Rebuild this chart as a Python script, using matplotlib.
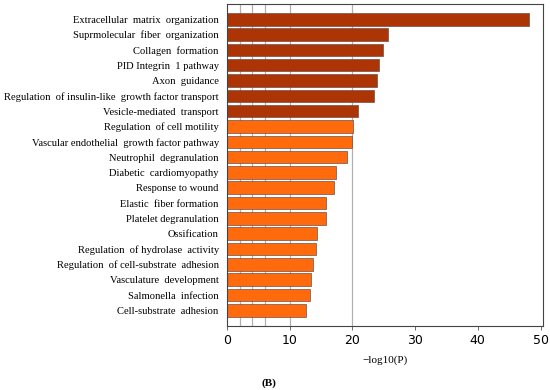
import matplotlib
matplotlib.use("Agg")
import matplotlib.pyplot as plt

# 項目名（上から順）
terms = [
    "Extracellular  matrix  organization",
    "Suprmolecular  fiber  organization",
    "Collagen  formation",
    "PID Integrin  1 pathway",
    "Axon  guidance",
    "Regulation  of insulin-like  growth factor transport",
    "Vesicle-mediated  transport",
    "Regulation  of cell motility",
    "Vascular endothelial  growth factor pathway",
    "Neutrophil  degranulation",
    "Diabetic  cardiomyopathy",
    "Response to wound",
    "Elastic  fiber formation",
    "Platelet degranulation",
    "Ossification",
    "Regulation  of hydrolase  activity",
    "Regulation  of cell-substrate  adhesion",
    "Vasculature  development",
    "Salmonella  infection",
    "Cell-substrate  adhesion",
]
# -log10(P)
neg_log_p = [48.1, 25.6, 24.9, 24.3, 24.0, 23.4, 20.9, 20.05, 19.95, 19.1,
             17.45, 17.0, 15.8, 15.8, 14.4, 14.15, 13.7, 13.45, 13.3, 12.55]
# 色の区分（0: 濃い, 1: 明るい）
shade = [0] * 7 + [1] * 13
grid_x = [2, 4, 6, 10, 20]
x_ticks = [0, 10, 20, 30, 40, 50]

color_list = ["#AD3404", "#FF6A0C"]

fig = plt.figure(figsize=(5.5, 3.9), dpi=100)
ax = fig.add_subplot(1, 1, 1)
plt.subplots_adjust(left=0.4127, right=0.9873, bottom=0.165, top=0.99)

y = list(range(len(terms)))
for gx in grid_x:
    ax.axvline(gx, color="#b0b0b0", linewidth=0.9, zorder=0)
ax.barh(y, neg_log_p, height=0.82,
        color=[color_list[s] for s in shade],
        edgecolor="#6e5048", linewidth=0.5, zorder=2)

ax.set_ylim(len(terms), -1)
ax.set_xlim(0, 50.4)
ax.set_yticks(y)
ax.set_yticklabels(terms, family="Liberation Serif", fontsize=7.6)
ax.tick_params(axis="y", length=0, pad=6)
ax.set_xticks(x_ticks)
ax.tick_params(axis="x", length=3, width=0.6, color="#555555", labelsize=9,
               pad=3)
for lab in ax.get_xticklabels():
    lab.set_family("DejaVu Sans")
for s in ax.spines.values():
    s.set_color("#444444")
    s.set_linewidth(0.8)

ax.set_xlabel("\u2212log10(P)", family="Liberation Serif", fontsize=8,
              labelpad=6)
fig.text(269 / 550, 1 - 383 / 390, "(B)", family="Liberation Serif",
         fontweight="bold", fontsize=8, ha="center", va="center")

plt.savefig("out.png", dpi=100)
